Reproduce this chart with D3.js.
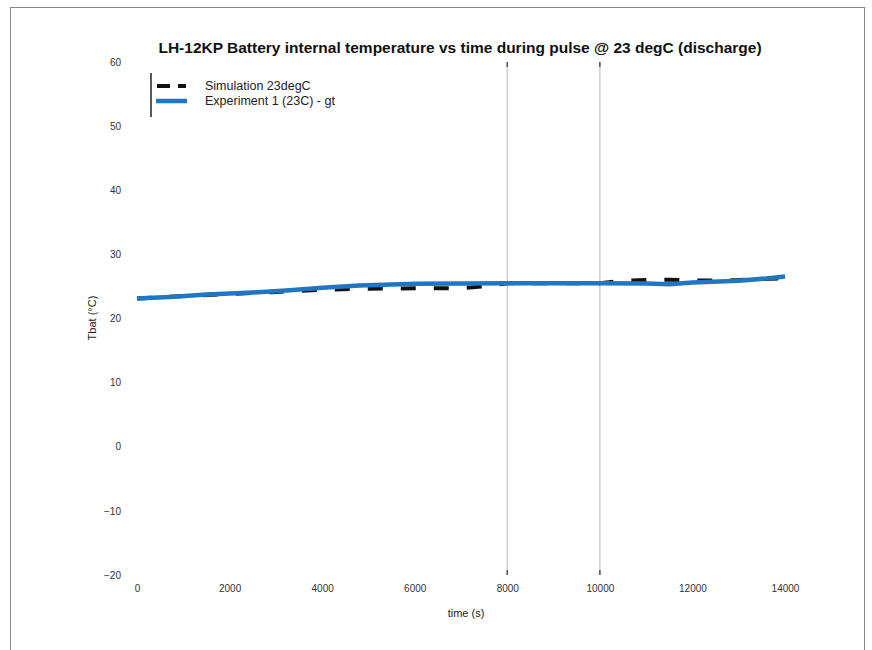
<!DOCTYPE html>
<html><head><meta charset="utf-8">
<script src="https://cdn.jsdelivr.net/npm/d3@7"></script>
<style>body{margin:0;background:#fff;font-family:"Liberation Sans",Arial,sans-serif;}</style>
</head><body><svg id="c" width="872" height="650"></svg>
<script>
const title = "LH-12KP Battery internal temperature vs time during pulse @ 23 degC (discharge)";
const xLabel = "time (s)";
const yLabel = "Tbat (°C)";
const xTicks = [0, 2000, 4000, 6000, 8000, 10000, 12000, 14000];
const yTicks = [60, 50, 40, 30, 20, 10, 0, -10, -20];
const pulseMarks = [8000, 10000];
const seriesNames = ["Simulation 23degC", "Experiment 1 (23C) - gt"];
const simTime = [0, 1000, 2000, 3000, 4000, 5000, 6000, 7000, 7500, 8000, 10000, 10500, 11000, 11500, 12000, 13000, 14000];
const simTemp = [23.1, 23.5, 23.8, 24.15, 24.5, 24.65, 24.7, 24.75, 25.0, 25.5, 25.5, 25.9, 26.0, 26.05, 25.9, 26.0, 26.3];
const expTime = [0, 800, 1500, 2500, 3300, 4000, 4800, 5500, 6000, 7000, 8000, 9000, 10000, 11000, 11500, 12000, 13000, 13600, 14000];
const expTemp = [23.1, 23.4, 23.75, 24.05, 24.4, 24.8, 25.15, 25.3, 25.4, 25.45, 25.5, 25.5, 25.5, 25.45, 25.35, 25.6, 25.9, 26.25, 26.55];

const svg = d3.select("#c");
svg.append("rect").attr("x",10.5).attr("y",7.5).attr("width",854).attr("height",660)
  .attr("fill","none").attr("stroke","#888").attr("stroke-width",1);

const x = d3.scaleLinear().domain([0,14000]).range([137,785]);
const y = d3.scaleLinear().domain([-20,60]).range([575,62]);

svg.selectAll("line.pm").data(pulseMarks).enter().append("line")
  .attr("x1",d=>x(d)).attr("x2",d=>x(d)).attr("y1",y(60)).attr("y2",y(-20))
  .attr("stroke","#cfcfcf").attr("stroke-width",1.5);
svg.selectAll("line.pt").data(pulseMarks).enter().append("line")
  .attr("x1",d=>x(d)).attr("x2",d=>x(d)).attr("y1",y(60)).attr("y2",y(60)+5)
  .attr("stroke","#555").attr("stroke-width",1.5);
svg.selectAll("line.pb").data(pulseMarks).enter().append("line")
  .attr("x1",d=>x(d)).attr("x2",d=>x(d)).attr("y1",y(-20)-5).attr("y2",y(-20))
  .attr("stroke","#555").attr("stroke-width",1.5);

const xa = svg.append("g").attr("transform","translate(0,582)")
  .call(d3.axisBottom(x).tickValues(xTicks).tickSize(0).tickFormat(d3.format("d")));
xa.select(".domain").remove();
xa.selectAll("text").attr("font-size",10).attr("fill","#333").attr("font-family","Liberation Sans, Arial, sans-serif");
const ya = svg.append("g").attr("transform","translate(124,0)")
  .call(d3.axisLeft(y).tickValues(yTicks).tickSize(0).tickFormat(d3.format("d")));
ya.select(".domain").remove();
ya.selectAll("text").attr("font-size",10).attr("fill","#333").attr("font-family","Liberation Sans, Arial, sans-serif");

svg.append("text").attr("x",x(7000)+5).attr("y",617).attr("text-anchor","middle")
  .attr("font-size",11).attr("fill","#222").text(xLabel);
svg.append("text").attr("transform","translate(96,318) rotate(-90)").attr("text-anchor","middle")
  .attr("font-size",11).attr("fill","#222").text(yLabel);
svg.append("text").attr("x",460).attr("y",53).attr("text-anchor","middle")
  .attr("font-size",15.5).attr("font-weight","bold").attr("fill","#111").text(title);

const line = d3.line().x(d=>x(d[0])).y(d=>y(d[1]));
const sim = simTime.map((t,i)=>[t,simTemp[i]]);
const exp = expTime.map((t,i)=>[t,expTemp[i]]);
svg.append("path").datum(sim).attr("d",line).attr("fill","none")
  .attr("stroke","#111").attr("stroke-width",4).attr("stroke-dasharray","15,18");
svg.append("path").datum(exp).attr("d",line).attr("fill","none")
  .attr("stroke","#1f77c4").attr("stroke-width",4.5);

const lg = svg.append("g");
lg.append("line").attr("x1",151).attr("x2",151).attr("y1",73).attr("y2",117).attr("stroke","#222").attr("stroke-width",1.5);
lg.append("line").attr("x1",157).attr("x2",186).attr("y1",86).attr("y2",86)
  .attr("stroke","#111").attr("stroke-width",4).attr("stroke-dasharray","13,8");
lg.append("line").attr("x1",156).attr("x2",187).attr("y1",101).attr("y2",101)
  .attr("stroke","#1f77c4").attr("stroke-width",4.5);
lg.selectAll("text").data(seriesNames).enter().append("text")
  .attr("x",205).attr("y",(d,i)=>90+i*15).attr("font-size",12.5).attr("fill","#222").text(d=>d);
</script></body></html>
